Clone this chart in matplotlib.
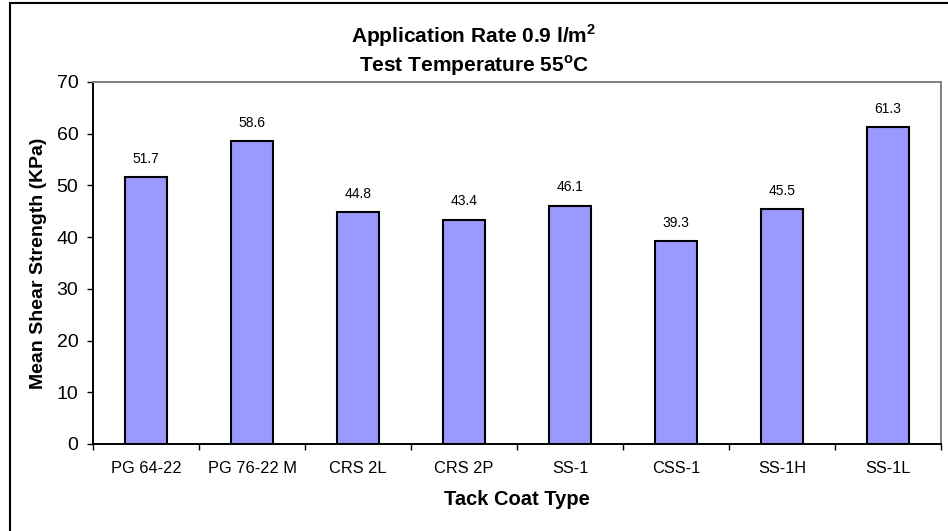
import numpy as np
import matplotlib
matplotlib.use("Agg")
from matplotlib import pyplot as plt
from matplotlib.patches import Rectangle

plt.rcParams['font.family'] = ['Liberation Sans', 'DejaVu Sans']
plt.rcParams['mathtext.fontset'] = 'custom'
plt.rcParams['mathtext.rm'] = 'Liberation Sans'
plt.rcParams['mathtext.bf'] = 'Liberation Sans:bold'

coats = ["PG 64-22", "PG 76-22 M", "CRS 2L", "CRS 2P", "SS-1", "CSS-1", "SS-1H", "SS-1L"]
shear = [51.7, 58.6, 44.8, 43.4, 46.1, 39.3, 45.5, 61.3]
yticks = [0, 10, 20, 30, 40, 50, 60, 70]

fig = plt.figure(figsize=(9.48, 5.31), dpi=100)
ax = fig.add_axes([93 / 948, 1 - 444 / 531, 848 / 948, 362 / 531])

x = np.arange(len(coats))
bars = ax.bar(x, shear, width=0.4, color="#9999FF", edgecolor="black", linewidth=1.5)

for xi, v in zip(x, shear):
    ax.annotate(f"{v:.1f}", (xi, v), xytext=(0, 8), textcoords="offset points",
                ha="center", va="bottom", fontsize=10)

ax.set_xlim(-0.5, len(coats) - 0.5)
ax.set_ylim(0, 70)
ax.set_yticks(yticks)
ax.tick_params(axis="y", labelsize=14, length=4.5, width=1, direction="out", pad=6)

# category labels centred, tick marks at the boundaries
ax.set_xticks(x)
ax.set_xticklabels(coats)
ax.set_xticks(np.arange(len(coats) + 1) - 0.5, minor=True)
ax.tick_params(axis="x", which="major", length=0, labelsize=11.8, pad=12)
ax.tick_params(axis="x", which="minor", length=4.5, width=1, direction="out")

for side in ["left", "bottom"]:
    ax.spines[side].set_color("black")
    ax.spines[side].set_linewidth(1.4)
for side in ["top", "right"]:
    ax.spines[side].set_color("#808080")
    ax.spines[side].set_linewidth(1.4)

ax.set_ylabel("Mean Shear Strength (KPa)", fontsize=14, fontweight="bold", labelpad=7)
ax.set_xlabel("Tack Coat Type", fontsize=14.5, fontweight="bold", labelpad=10)

fig.text(0.5, 1 - 36 / 531, r"Application Rate 0.9 l/m$^\mathbf{2}$", ha="center", va="center",
         fontsize=15, fontweight="bold")
fig.text(0.5, 1 - 66 / 531, r"Test Temperature 55$^\mathbf{o}$C", ha="center", va="center",
         fontsize=15, fontweight="bold")

# chart area border
fig.patches.append(Rectangle((10 / 948, -0.1), 1.0, 1.1 - 3 / 531, transform=fig.transFigure,
                             fill=False, edgecolor="black", linewidth=1.5, clip_on=False))

fig.savefig("out.png", dpi=100)
